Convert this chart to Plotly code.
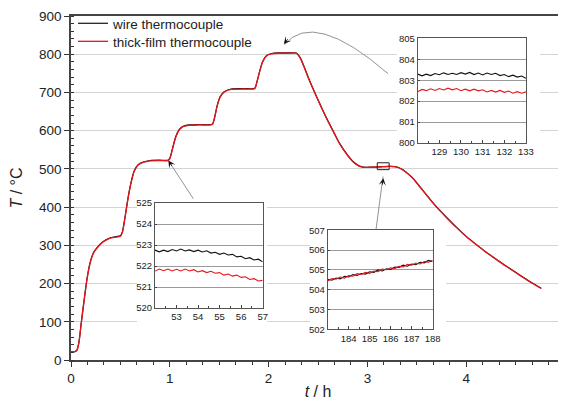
import plotly.graph_objects as go

# ---------------- main curve (t in h, T in °C) ----------------
t_h = [0.00, 0.04, 0.06, 0.08, 0.10, 0.12, 0.14, 0.16, 0.18, 0.20, 0.23, 0.27, 0.32, 0.38, 0.44, 0.50,
       0.52, 0.55, 0.58, 0.61, 0.64, 0.68, 0.73, 0.80, 0.90, 0.98,
       1.00, 1.03, 1.06, 1.09, 1.13, 1.20, 1.30, 1.43,
       1.45, 1.48, 1.51, 1.55, 1.62, 1.75, 1.86,
       1.88, 1.91, 1.94, 1.98, 2.03, 2.10, 2.20, 2.28,
       2.32, 2.36, 2.41, 2.50, 2.59, 2.66, 2.72, 2.80, 2.86, 2.91, 2.96,
       3.05, 3.13, 3.22, 3.28, 3.32, 3.36, 3.40, 3.45, 3.50, 3.55, 3.60, 3.65, 3.70,
       3.80, 3.90, 4.00, 4.11, 4.20, 4.30, 4.40, 4.50, 4.60, 4.66, 4.76]
T_film = [22, 22, 26, 45, 88, 130, 170, 208, 238, 260, 281, 295, 308, 317, 321, 324,
          334, 378, 427, 466, 494, 510, 517, 521, 521.8, 521.8,
          527, 555, 583, 600, 610, 614, 615, 616,
          630, 665, 688, 701, 708, 709, 710,
          725, 755, 780, 796, 801, 802.5, 802.5, 802.5,
          790, 766, 733, 680, 630, 595, 565, 535, 517, 508, 504,
          504.5, 505.5, 506.5, 506, 503, 497, 489, 478, 463, 447, 431, 415, 400,
          373, 347, 323, 300, 282, 264, 246, 229, 212, 202, 187]
T_wire = [22, 22, 26, 46, 89, 131, 171, 209, 239, 261, 282, 296, 309, 318, 322, 325,
          335, 379, 428, 467, 495, 511, 518, 522, 522.7, 522.7,
          528, 556, 584, 601, 611, 615, 616, 617,
          631, 666, 689, 702, 709, 710, 711,
          726, 756, 781, 797, 802, 803.3, 803.3, 803.2,
          791, 767, 734, 681, 631, 596, 566, 536, 518, 509, 504.5,
          504.5, 505.5, 506.5, 506, 503, 497.5, 489.5, 478.5, 463.5, 447.5, 431.5, 415.5, 400.5,
          373.5, 347.5, 323.5, 300.5, 282.5, 264.5, 246.5, 229.5, 212.5, 202.5, 187.5]

# ---------------- inset 1 (t in min) ----------------
in1_t = [52.0, 52.2, 52.4, 52.6, 52.8, 53.0, 53.2, 53.4, 53.6, 53.8, 54.0, 54.2, 54.4,
         54.6, 54.8, 55.0, 55.2, 55.4, 55.6, 55.8, 56.0, 56.2, 56.4, 56.6, 56.8, 57.0]
in1_wire = [522.76, 522.68, 522.76, 522.69, 522.79, 522.72, 522.81, 522.72, 522.77, 522.69, 522.76, 522.67, 522.73,
            522.62, 522.66, 522.56, 522.62, 522.53, 522.56, 522.44, 522.47, 522.35, 522.40, 522.29, 522.33, 522.20]
in1_film = [521.76, 521.86, 521.78, 521.86, 521.77, 521.85, 521.77, 521.86, 521.77, 521.83, 521.72, 521.78, 521.69,
            521.75, 521.66, 521.69, 521.57, 521.62, 521.52, 521.57, 521.46, 521.49, 521.36, 521.40, 521.29, 521.32]
in1_ticks = [53, 54, 55, 56, 57]

# ---------------- inset 2 ----------------
in2_t = [183.0, 183.2, 183.4, 183.6, 183.8, 184.0, 184.2, 184.4, 184.6, 184.8, 185.0, 185.2, 185.4,
         185.6, 185.8, 186.0, 186.2, 186.4, 186.6, 186.8, 187.0, 187.2, 187.4, 187.6, 187.8, 188.0]
in2_wire = [504.53, 504.48, 504.59, 504.55, 504.68, 504.65, 504.77, 504.72, 504.82, 504.79, 504.91, 504.88, 505.00,
            504.95, 505.06, 505.02, 505.15, 505.13, 505.24, 505.19, 505.30, 505.26, 505.39, 505.36, 505.48, 505.42]
in2_film = [504.44, 504.57, 504.53, 504.64, 504.59, 504.71, 504.68, 504.81, 504.77, 504.88, 504.82, 504.94, 504.91,
            505.04, 505.01, 505.11, 505.06, 505.18, 505.15, 505.28, 505.24, 505.35, 505.30, 505.42, 505.39, 505.49]
in2_ticks = [184, 185, 186, 187, 188]

# ---------------- inset 3 ----------------
in3_t = [128.0, 128.2, 128.4, 128.6, 128.8, 129.0, 129.2, 129.4, 129.6, 129.8, 130.0, 130.2, 130.4,
         130.6, 130.8, 131.0, 131.2, 131.4, 131.6, 131.8, 132.0, 132.2, 132.4, 132.6, 132.8, 133.0]
in3_wire = [803.29, 803.21, 803.29, 803.22, 803.32, 803.26, 803.35, 803.27, 803.33, 803.27, 803.36, 803.29, 803.37,
            803.27, 803.34, 803.25, 803.34, 803.27, 803.33, 803.22, 803.27, 803.17, 803.24, 803.15, 803.20, 803.09]
in3_film = [802.45, 802.56, 802.50, 802.59, 802.51, 802.60, 802.53, 802.62, 802.54, 802.60, 802.50, 802.57, 802.49,
            802.57, 802.49, 802.54, 802.44, 802.51, 802.43, 802.51, 802.42, 802.48, 802.38, 802.45, 802.38, 802.44]
in3_ticks = [129, 130, 131, 132, 133]

FONT = "Liberation Sans, Arial, sans-serif"
BLACK = "#111111"
RED = "#e8141b"

fig = go.Figure()
fig.add_trace(go.Scatter(x=t_h, y=T_wire, mode="lines", name="wire thermocouple", legend="legend",
                         line=dict(color=BLACK, width=1.2, shape="spline", smoothing=0.7)))
fig.add_trace(go.Scatter(x=t_h, y=T_film, mode="lines", name="thick-film thermocouple", legend="legend2",
                         line=dict(color=RED, width=1.3, shape="spline", smoothing=0.7)))

insets = [(in1_t, in1_wire, in1_film, "2"), (in2_t, in2_wire, in2_film, "3"), (in3_t, in3_wire, in3_film, "4")]
for tt, ww, ff, k in insets:
    fig.add_trace(go.Scatter(x=tt, y=ww, mode="lines", showlegend=False, xaxis="x" + k, yaxis="y" + k,
                             line=dict(color=BLACK, width=1.1)))
    fig.add_trace(go.Scatter(x=tt, y=ff, mode="lines", showlegend=False, xaxis="x" + k, yaxis="y" + k,
                             line=dict(color=RED, width=1.1)))

tickfont = dict(family=FONT, size=13.5, color="#222")
legfont = dict(family=FONT, size=13.5, color="#222")
fig.update_layout(
    # the page body adds an 8 px margin, so the figure is sized to end at the window edge
    width=558, height=392, template="none",
    margin=dict(l=63, r=1, t=7, b=40),
    paper_bgcolor="white", plot_bgcolor="white",
    font=dict(family=FONT, color="#222"),
    showlegend=True,
    legend=dict(x=0.004, y=1.0203, xanchor="left", yanchor="top", bgcolor="rgba(0,0,0,0)", font=legfont),
    legend2=dict(x=0.004, y=0.968, xanchor="left", yanchor="top", bgcolor="rgba(0,0,0,0)", font=legfont),
    xaxis=dict(range=[0, 5], dtick=1, showgrid=False, zeroline=False, ticks="outside", ticklen=5,
               tickcolor="#333", showline=True, linecolor="#444", linewidth=1.5, mirror=True,
               tickfont=tickfont, ticklabeloverflow="allow",
               minor=dict(dtick=1 / 6, ticks="outside", ticklen=3, tickcolor="#333", showgrid=False),
               title=dict(text="<i>t</i> / h", font=dict(family=FONT, size=16, color="#222"), standoff=8)),
    yaxis=dict(range=[0, 900], dtick=100, showgrid=True, gridcolor="#d4d4d4", gridwidth=1, zeroline=False,
               ticks="outside", ticklen=5, tickcolor="#333", showline=True, linecolor="#444", linewidth=1.5,
               mirror=True, tickfont=tickfont,
               minor=dict(dtick=20, ticks="inside", ticklen=3, tickcolor="#333", showgrid=False),
               title=dict(text="<i>T</i> / °C", font=dict(family=FONT, size=16, color="#222"), standoff=12)),
)

inset_specs = [
    ("2", [0.170, 0.388], [0.151, 0.456], [52, 57], [520, 525], in1_ticks),
    ("3", [0.5196, 0.732], [0.089, 0.377], [183, 188], [502, 507], in2_ticks),
    ("4", [0.7018, 0.921], [0.631, 0.935], [128, 133], [800, 805], in3_ticks),
]
ifont = dict(family=FONT, size=9.5, color="#222")
for k, xd, yd, xr, yr, tv in inset_specs:
    fig.update_layout(**{
        "xaxis" + k: dict(domain=xd, anchor="y" + k, range=xr, tickvals=tv, showgrid=False, zeroline=False,
                          ticks="inside", ticklen=3, tickcolor="#444", showline=True, linecolor="#555",
                          linewidth=1, mirror=True, tickfont=ifont,
                          minor=dict(dtick=0.5, ticks="inside", ticklen=2, tickcolor="#444", showgrid=False)),
        "yaxis" + k: dict(domain=yd, anchor="x" + k, range=yr, dtick=1, showgrid=True, gridcolor="#9a9a9a",
                          gridwidth=1, zeroline=False, ticks="inside", ticklen=2, tickcolor="#444",
                          showline=True, linecolor="#555", linewidth=1, mirror=True, tickfont=ifont),
    })

# white areas behind insets (hide main gridlines behind inset labels)
white_boxes = [(0.668, 1.984, 83.5, 422.6), (2.419, 3.796, 39.1, 352.2), (3.30, 4.747, 521.8, 874)]
shapes = []
for x0, x1, y0, y1 in white_boxes:
    shapes.append(dict(type="rect", xref="x", yref="y", x0=x0, x1=x1, y0=y0, y1=y1,
                       fillcolor="white", line=dict(width=0), layer="between"))
# small selection box on the 505 °C plateau
shapes.append(dict(type="rect", xref="x", yref="y", x0=3.10, x1=3.22, y0=498, y1=516,
                   line=dict(color="#222", width=1), fillcolor="rgba(0,0,0,0)", layer="above"))
# straight pointer lines
shapes.append(dict(type="line", xref="x", yref="y", x0=1.238, y0=421.9, x1=0.99, y1=520,
                   line=dict(color="#777", width=0.8), layer="above"))
shapes.append(dict(type="line", xref="x", yref="y", x0=3.087, y0=341, x1=3.158, y1=480,
                   line=dict(color="#777", width=0.8), layer="above"))
# curved pointer
shapes.append(dict(type="path", xref="x", yref="y", path="M 3.21,749 Q 2.456,918 2.16,825",
                   line=dict(color="#777", width=0.8), layer="above"))
fig.update_layout(shapes=shapes)

heads = [(0.985, 521.8, 4.4, 6.7), (3.161, 475.6, -1.1, 7.9), (2.154, 827, 5.2, -6.1)]
for x, y, ax, ay in heads:
    fig.add_annotation(x=x, y=y, xref="x", yref="y", ax=ax, ay=ay, axref="pixel", ayref="pixel",
                       text="", showarrow=True, arrowhead=3, arrowsize=1.2, arrowwidth=1,
                       arrowcolor="#111", standoff=0)

fig.write_html("out.html")
